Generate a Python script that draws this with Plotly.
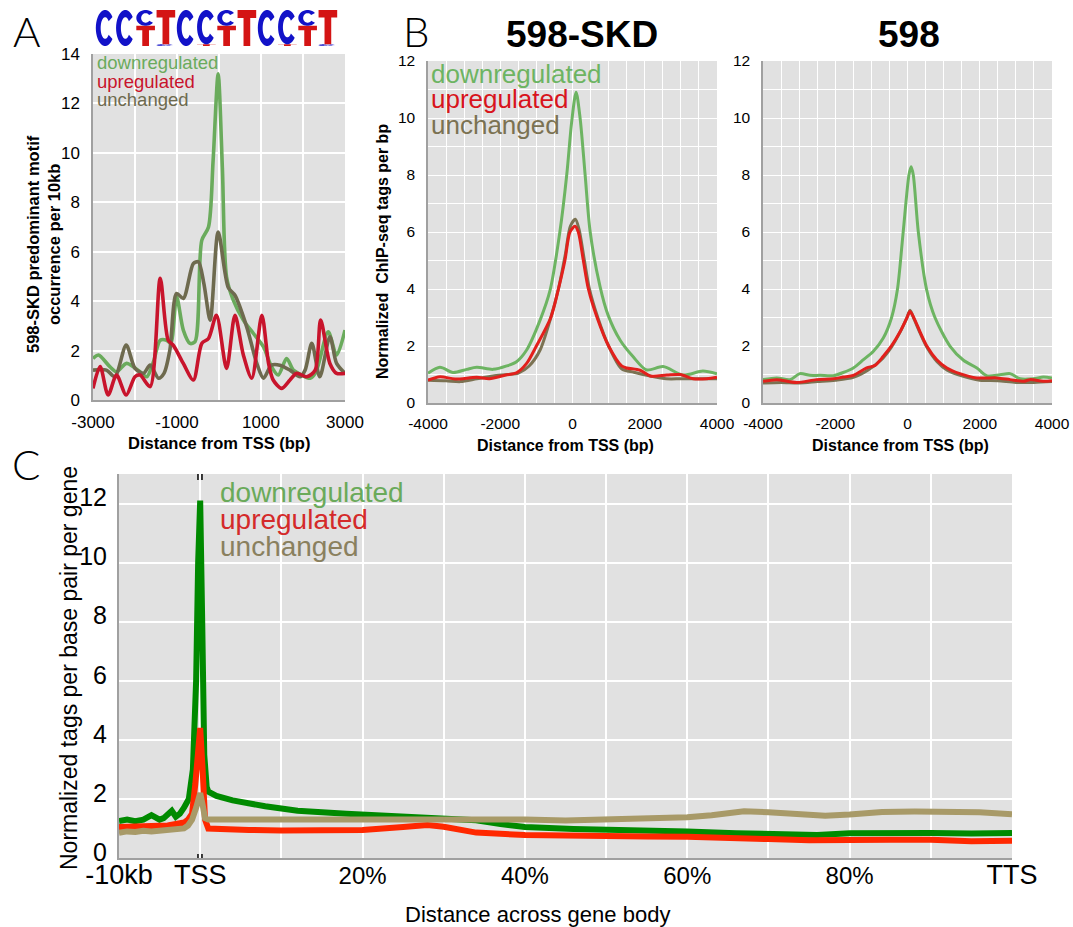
import math
import plotly.graph_objects as go

W, H = 1073, 927

# ---------------- Panel A: motif occurrence ----------------
a_down_x = [-3000,-2870,-2600,-2440,-2200,-1880,-1720,-1560,-1400,-1250,-1150,-1010,-850,-690,-570,-410,-250,-140,-20,80,180,340,580,820,1060,1250,1410,1610,1770,1970,2170,2310,2600,2800,3000]
a_down_y = [1.68,1.82,1.35,1.14,1.48,1.14,0.94,1.55,2.42,2.42,2.29,4.18,2.83,2.29,2.36,6.46,7.0,9.7,13.2,9.4,4.98,4.04,3.23,2.69,2.15,1.35,1.01,1.68,1.21,1.01,0.88,1.14,2.76,1.82,2.83]
a_unch_x = [-3000,-2680,-2480,-2210,-2000,-1800,-1640,-1440,-1310,-1170,-1010,-850,-610,-490,-360,-210,-20,220,380,660,900,1060,1250,1450,1690,1930,2050,2210,2400,2640,2800,3000]
a_unch_y = [1.21,1.21,0.94,2.22,1.28,1.08,1.41,0.88,1.08,2.02,4.31,4.11,5.52,5.59,4.71,3.23,6.8,4.55,4.24,2.96,1.48,0.88,1.41,1.41,1.21,0.94,1.21,2.29,0.94,2.56,1.48,1.08]
a_up_x = [-3000,-2830,-2640,-2440,-2210,-2000,-1880,-1640,-1400,-1210,-1090,-850,-610,-410,-250,-60,180,380,580,780,1020,1180,1290,1490,1690,1850,2090,2290,2420,2640,2800,3000]
a_up_y = [0.47,1.35,0.2,1.01,0.2,0.94,1.01,0.54,4.92,2.42,2.22,1.48,0.81,2.29,2.49,3.43,1.28,3.43,1.82,0.88,3.43,1.48,0.81,0.47,0.81,1.08,0.94,1.21,3.23,1.48,1.08,1.08]
a_xticks = [-3000,-2000,-1000,0,1000,2000,3000]
a_xlabels = ["-3000","","-1000","","1000","","3000"]

# ---------------- Panel B: ChIP-seq profiles ----------------
b1_down_x = [-4000,-3670,-3310,-2930,-2650,-2200,-1820,-1550,-1270,-900,-620,-350,-160,-20,100,210,350,490,760,980,1320,1680,2050,2510,3060,3610,4000]
b1_down_y = [1.04,1.25,1.07,1.18,1.25,1.18,1.3,1.45,1.86,2.9,3.96,6.0,8.0,9.9,10.9,10.0,8.0,6.0,4.1,3.1,2.2,1.62,1.16,1.28,0.98,1.12,1.02]
b1_up_x = [-4000,-3670,-3250,-2650,-2300,-1850,-1550,-1270,-1000,-600,-390,-210,-70,70,160,300,440,680,1000,1360,1500,1870,2150,2610,2980,3340,3720,4000]
b1_up_y = [0.8,0.92,0.84,0.9,0.85,0.98,1.06,1.39,2.0,3.0,4.0,5.0,6.0,6.2,6.0,5.0,4.0,3.0,2.0,1.3,1.23,1.15,0.95,0.98,1.0,0.85,0.85,0.9]
b1_unch_x = [-4000,-3500,-3100,-2650,-2200,-1800,-1500,-1200,-900,-600,-390,-200,-60,80,180,330,470,700,1000,1360,1700,2150,2600,3000,3500,4000]
b1_unch_y = [0.8,0.78,0.75,0.85,0.95,1.0,1.05,1.3,1.85,3.0,4.0,5.2,6.2,6.45,6.1,5.0,4.0,3.0,2.0,1.2,1.08,0.95,0.85,0.85,0.85,0.85]

b2_down_x = [-4000,-3620,-3250,-2980,-2700,-2420,-2050,-1780,-1500,-1220,-950,-670,-440,-280,-120,40,100,160,300,530,760,1180,1550,1920,2190,2560,2840,3120,3480,3760,4000]
b2_down_y = [0.82,0.88,0.82,1.03,0.97,0.97,0.96,1.07,1.23,1.52,1.81,2.28,3.0,3.97,5.99,8.0,8.29,8.0,5.99,3.97,3.0,1.99,1.5,1.23,0.96,0.99,1.03,0.85,0.85,0.91,0.88]
b2_up_x = [-4000,-3620,-3070,-2520,-2050,-1780,-1500,-1130,-900,-670,-440,-210,-20,70,180,350,530,810,1090,1450,1920,2470,2840,3210,3390,3760,4000]
b2_up_y = [0.76,0.82,0.72,0.82,0.85,0.91,0.97,1.23,1.32,1.64,2.01,2.49,2.98,3.21,2.98,2.49,2.01,1.52,1.23,1.03,0.88,0.88,0.82,0.76,0.82,0.76,0.78]
b2_unch_x = [-4000,-3500,-3000,-2500,-2000,-1500,-1100,-700,-450,-220,-30,70,180,350,540,820,1100,1500,2000,2500,3000,3500,4000]
b2_unch_y = [0.7,0.72,0.7,0.75,0.8,0.9,1.15,1.55,1.95,2.45,2.95,3.25,2.95,2.45,1.95,1.45,1.15,0.95,0.8,0.78,0.72,0.72,0.75]
b_xticks = [-4000,-2000,0,2000,4000]
b_xlabels = ["-4000","-2000","0","2000","4000"]

# ---------------- Panel C: gene body profile (x: -10 = -10kb, 0 = TSS, 100 = TTS) ----------------
c_down_x = [-10,-9,-8,-7,-6,-5,-4.5,-4,-3.5,-3,-2.5,-2,-1.4,-0.9,-0.5,-0.25,0,0.25,0.5,0.8,1,2,4,8,12,18,22,26,30,34,37,40,46,54,60,66,70,76,80,85,90,95,100]
c_down_y = [1.25,1.3,1.25,1.3,1.45,1.3,1.35,1.5,1.6,1.4,1.5,1.7,2.0,3.0,6.0,10.0,12.1,8.0,3.5,2.4,2.25,2.1,1.95,1.75,1.6,1.5,1.45,1.42,1.35,1.28,1.15,1.05,0.98,0.95,0.9,0.84,0.82,0.78,0.84,0.86,0.85,0.83,0.85]
c_up_x = [-10,-8,-6,-4,-3,-2,-1.5,-1,-0.6,-0.3,0,0.3,0.6,1,3,6,10,15,20,25,28,30,34,40,45,50,55,60,65,70,75,80,85,90,95,100]
c_up_y = [1.05,1.05,1.07,1.1,1.15,1.2,1.3,1.5,2.5,3.8,4.4,3.0,1.3,1.0,0.97,0.95,0.93,0.92,0.95,1.05,1.12,1.06,0.86,0.78,0.75,0.74,0.73,0.72,0.66,0.64,0.6,0.63,0.62,0.62,0.57,0.58]
c_unch_x = [-10,-9,-8,-7,-6,-5,-4,-3,-2,-1.5,-1,-0.5,-0.2,0,0.3,0.6,1,3,6,10,15,20,25,30,35,40,45,50,55,60,63,67,70,75,77,80,84,88,92,96,100]
c_unch_y = [0.85,0.9,0.88,0.92,0.9,0.92,0.95,0.95,1.0,1.1,1.3,1.7,2.0,2.2,1.8,1.35,1.3,1.3,1.3,1.32,1.3,1.32,1.3,1.33,1.32,1.3,1.27,1.3,1.33,1.38,1.45,1.58,1.55,1.5,1.43,1.47,1.56,1.57,1.58,1.55,1.48]
c_xticks = [-10,0,10,20,30,40,50,60,70,80,90,100]
c_xlabels = ["-10kb","TSS","","20%","","40%","","60%","","80%","","TTS"]

# ---------------- Motif logo ----------------
logo_letters = [["C"],["C"],["T","C"],["C","T"],["C"],["T","C"],["T","C"],["T"],["C"],["T","C"],["T","C"],["C","T"]]
logo_heights = [[1.0],[1.0],[0.56,0.44],[0.05,0.95],[1.0],[0.05,0.95],[0.56,0.44],[1.0],[1.0],[0.05,0.95],[0.56,0.44],[0.05,0.95]]

legend_names = ["downregulated", "upregulated", "unchanged"]

# ---------------- helpers ----------------
def fx(p):
    return p / W

def fy(p):
    return 1 - p / H

FONT = "Liberation Sans, Arial, Helvetica, sans-serif"

A_COL = ["#6aab5c", "#c8142c", "#6e6a4e"]
B_COL = ["#6db462", "#e2201c", "#7b7252"]
C_COL = ["#008a00", "#ff2800", "#a89a68"]
C_TXT = ["#6aaa5a", "#d42a2a", "#8a805e"]

fig = go.Figure()

def add_line(x, y, col, width, xa, ya, shape="spline"):
    fig.add_trace(go.Scatter(x=x, y=y, mode="lines", xaxis=xa, yaxis=ya,
                             line=dict(color=col, width=width, shape=shape,
                                       smoothing=0.8 if shape == "spline" else None),
                             showlegend=False, hoverinfo="skip"))

# Panel A (green, brown, red)
add_line(a_down_x, a_down_y, A_COL[0], 3.6, "x", "y")
add_line(a_unch_x, a_unch_y, A_COL[2], 3.6, "x", "y")
add_line(a_up_x, a_up_y, A_COL[1], 3.6, "x", "y")
# Panel B1
add_line(b1_down_x, b1_down_y, B_COL[0], 3, "x2", "y2")
add_line(b1_unch_x, b1_unch_y, B_COL[2], 3, "x2", "y2")
add_line(b1_up_x, b1_up_y, B_COL[1], 3, "x2", "y2")
# Panel B2
add_line(b2_down_x, b2_down_y, B_COL[0], 3, "x3", "y3")
add_line(b2_unch_x, b2_unch_y, B_COL[2], 3, "x3", "y3")
add_line(b2_up_x, b2_up_y, B_COL[1], 3, "x3", "y3")
# Panel C
add_line(c_down_x, c_down_y, C_COL[0], 6, "x4", "y4", shape="linear")
add_line(c_up_x, c_up_y, C_COL[1], 6, "x4", "y4", shape="linear")
add_line(c_unch_x, c_unch_y, C_COL[2], 6, "x4", "y4", shape="linear")

def ax(**kw):
    d = dict(showline=True, linecolor="#a0a0a0", zeroline=False, ticks="",
             gridcolor="white", fixedrange=True, automargin=False)
    d.update(kw)
    return d

def tf(size):
    return dict(size=size, family=FONT, color="black")

layout = dict(
    width=W, height=H, margin=dict(l=0, r=0, t=0, b=0, autoexpand=False),
    paper_bgcolor="white", plot_bgcolor="white", showlegend=False,
    font=dict(family=FONT, color="black"),
    # Panel A
    xaxis=ax(domain=[fx(93), fx(345)], anchor="y", range=[-3000, 3000],
             tickvals=a_xticks, ticktext=a_xlabels, gridwidth=1.5, linewidth=1.5,
             tickfont=tf(17), ticklabelstandoff=6),
    yaxis=ax(domain=[fy(400), fy(54)], anchor="x", range=[0, 14], dtick=2, tick0=0,
             gridwidth=1.5, linewidth=1.5, ticklabelstandoff=8, tickfont=tf(17)),
    # Panel B1
    xaxis2=ax(domain=[fx(428), fx(717)], anchor="y2", range=[-4000, 4000],
              tickvals=b_xticks, ticktext=b_xlabels,
              gridwidth=1, linewidth=1.5, ticklabelstandoff=6,
              minor=dict(dtick=500, tick0=0, showgrid=True, gridcolor="white", gridwidth=1),
              tickfont=tf(15.5)),
    yaxis2=ax(domain=[fy(403), fy(61)], anchor="x2", range=[0, 12], dtick=2, tick0=0,
              gridwidth=1, linewidth=1.5, ticklabelstandoff=8,
              minor=dict(dtick=1, tick0=0, showgrid=True, gridcolor="white", gridwidth=1),
              tickfont=tf(15.5)),
    # Panel B2
    xaxis3=ax(domain=[fx(763), fx(1052)], anchor="y3", range=[-4000, 4000],
              tickvals=b_xticks, ticktext=b_xlabels,
              gridwidth=1, linewidth=1.5, ticklabelstandoff=6,
              minor=dict(dtick=500, tick0=0, showgrid=True, gridcolor="white", gridwidth=1),
              tickfont=tf(15.5)),
    yaxis3=ax(domain=[fy(403), fy(61)], anchor="x3", range=[0, 12], dtick=2, tick0=0,
              gridwidth=1, linewidth=1.5, ticklabelstandoff=8,
              minor=dict(dtick=1, tick0=0, showgrid=True, gridcolor="white", gridwidth=1),
              tickfont=tf(15.5)),
    # Panel C
    xaxis4=ax(domain=[fx(119), fx(1012)], anchor="y4", range=[-10, 100],
              tickvals=c_xticks,
              ticktext=[("<span style='font-size:27px'>%s</span>" % t) if t in ("-10kb", "TSS", "TTS") else t
                        for t in c_xlabels],
              gridwidth=2, linewidth=2, ticklabelstandoff=-5, tickfont=tf(24)),
    yaxis4=ax(domain=[fy(858), fy(474)], anchor="x4", range=[0, 13], dtick=2, tick0=0,
              gridwidth=2, linewidth=2, ticklabelstandoff=5, ticklabelshift=-6, tickfont=tf(25)),
    # Logo
    xaxis5=dict(domain=[fx(95), fx(338)], anchor="y5", range=[0, len(logo_letters)], visible=False,
                fixedrange=True, automargin=False),
    yaxis5=dict(domain=[fy(46), fy(10)], anchor="x5", range=[0, 1], visible=False, fixedrange=True,
                automargin=False),
)

shapes = []
BG = "#e1e1e1"
for xa, ya in (("x", "y"), ("x2", "y2"), ("x3", "y3"), ("x4", "y4")):
    shapes.append(dict(type="rect", xref=xa + " domain", yref=ya + " domain", x0=0, x1=1, y0=0, y1=1,
                       fillcolor=BG, line=dict(width=0), layer="below"))

# TSS break marks in panel C
for dx in (-2.2, 1.8):
    shapes.append(dict(type="line", xref="x4", yref="y4", xsizemode="pixel", xanchor=0,
                       x0=dx, x1=dx, ysizemode="pixel", yanchor=13, y0=-6, y1=3,
                       line=dict(color="black", width=1.5)))
    shapes.append(dict(type="line", xref="x4", yref="y4", xsizemode="pixel", xanchor=0,
                       x0=dx, x1=dx, ysizemode="pixel", yanchor=0, y0=-6, y1=4,
                       line=dict(color="black", width=1.5)))

# Sequence-logo glyphs
def c_path(x0, x1, y0, y1):
    cx, cy = (x0 + x1) / 2, (y0 + y1) / 2
    rx, ry = (x1 - x0) / 2, (y1 - y0) / 2
    irx, iry = rx * 0.48, ry * 0.6
    a0, a1, n = 38, 322, 30
    pts = []
    for k in range(n + 1):
        a = math.radians(a0 + (a1 - a0) * k / n)
        pts.append((cx + rx * math.cos(a), cy + ry * math.sin(a)))
    for k in range(n, -1, -1):
        a = math.radians(a0 + (a1 - a0) * k / n)
        pts.append((cx + irx * math.cos(a), cy + iry * math.sin(a)))
    return "M " + " L ".join("%.4f,%.4f" % p for p in pts) + " Z"

def t_path(x0, x1, y0, y1):
    w, h = x1 - x0, y1 - y0
    bar, sw, xm = 0.22 * h, 0.36 * w, (x0 + x1) / 2
    pts = [(x0, y1), (x1, y1), (x1, y1 - bar), (xm + sw / 2, y1 - bar), (xm + sw / 2, y0),
           (xm - sw / 2, y0), (xm - sw / 2, y1 - bar), (x0, y1 - bar)]
    return "M " + " L ".join("%.4f,%.4f" % p for p in pts) + " Z"

for i, (letters, heights) in enumerate(zip(logo_letters, logo_heights)):
    base = 0.0
    for let, hgt in zip(letters, heights):
        x0, x1 = i + 0.04, i + 0.96
        y0, y1 = base, base + hgt
        if let == "C":
            path, col = c_path(x0, x1, y0, y1), "#1212c8"
        else:
            path, col = t_path(x0, x1, y0, y1), "#d41414"
        shapes.append(dict(type="path", xref="x5", yref="y5", path=path,
                           fillcolor=col, line=dict(width=0), layer="above"))
        base = y1

layout["shapes"] = shapes

ann = []
def text(x, y, s, size, color="black", xanchor="center", yanchor="middle", angle=0, family=FONT, weight=None):
    f = dict(size=size, color=color, family=family)
    if weight is not None:
        f["weight"] = weight
    ann.append(dict(x=fx(x), y=fy(y), xref="paper", yref="paper", text=s, showarrow=False,
                    xanchor=xanchor, yanchor=yanchor, textangle=angle, font=f))

# Panel letters
LIGHT = "Lato, DejaVu Sans, sans-serif"
text(27, 31, "A", 42, family=LIGHT, weight=300)
text(416, 31, "B", 42, family=LIGHT, weight=300)
text(26, 464, "C", 42, family=LIGHT, weight=300)

# Panel B titles
text(582, 34, "<b>598-SKD</b>", 37)
text(909, 34, "<b>598</b>", 37)

# Axis titles
text(219, 443, "<b>Distance from TSS (bp)</b>", 16.5)
text(43, 244, "<b>598-SKD predominant motif</b><br><b>occurrence per 10kb</b>", 16.5, angle=-90)
text(382, 252, "<b>Normalized\u00a0 ChIP-seq tags per bp</b>", 16, angle=-90)
text(565, 445, "<b>Distance from TSS (bp)</b>", 16)
text(900, 445, "<b>Distance from TSS (bp)</b>", 16)
text(537, 914, "Distance across gene body", 22)
text(69, 668, "Normalized tags per base pair per gene", 23, angle=-90)

# In-panel legends
for k, name in enumerate(legend_names):
    text(95, 63 + 18.5 * k, name, 18.5, color=A_COL[k], xanchor="left")
    text(429, 74 + 25.5 * k, name, 26, color=B_COL[k] if k != 1 else "#d8141c", xanchor="left")
    text(218, 492 + 27 * k, name, 28, color=C_TXT[k], xanchor="left")

layout["annotations"] = ann
fig.update_layout(**layout)
fig.write_html("out.html")
